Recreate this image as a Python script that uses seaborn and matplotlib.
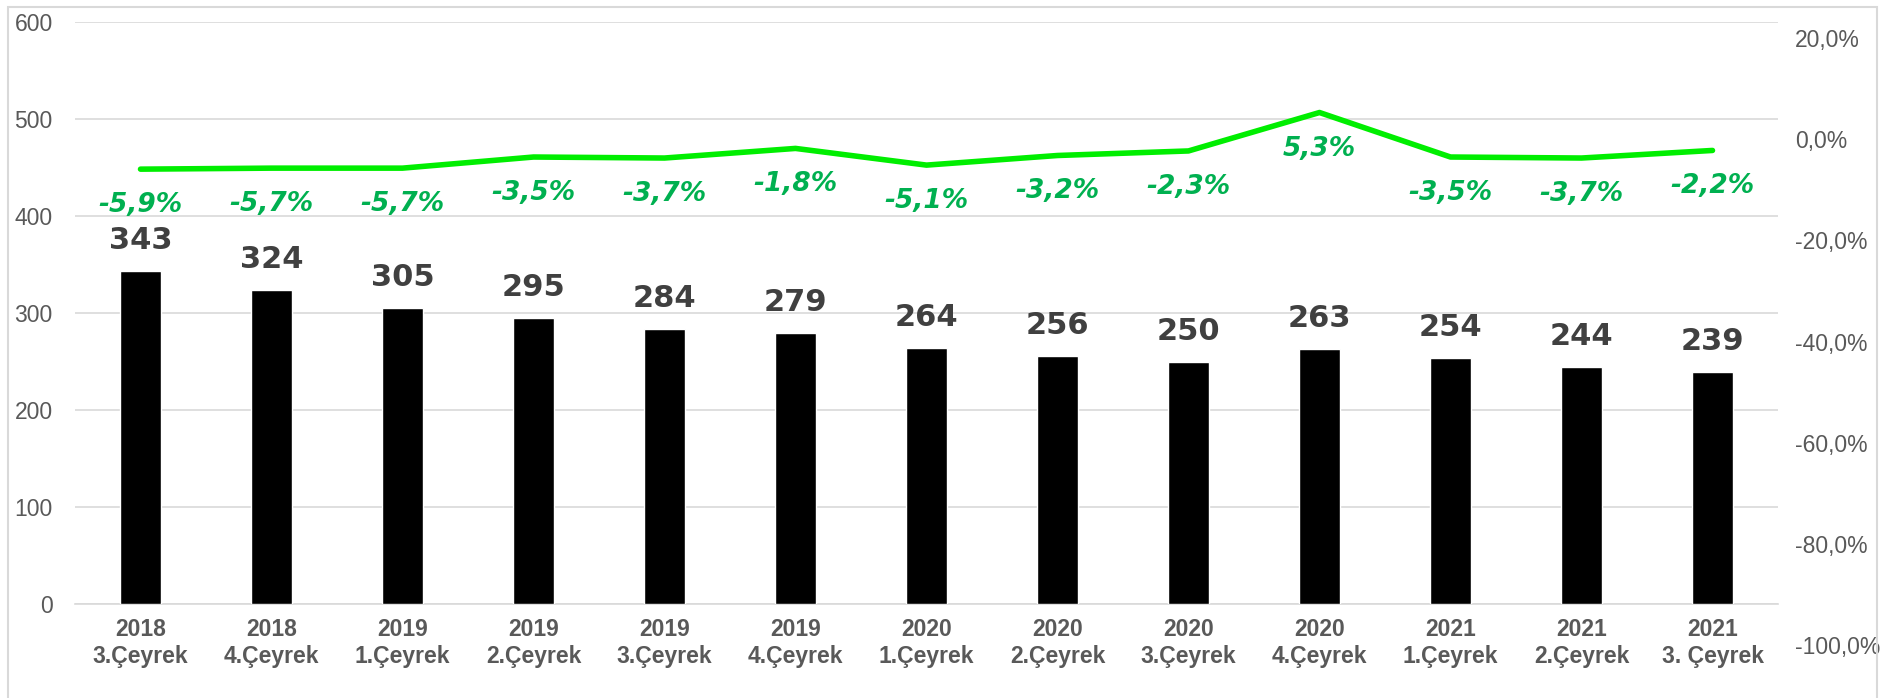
import numpy as np
import pandas as pd
import matplotlib
matplotlib.use("Agg")
import matplotlib.pyplot as plt
import seaborn as sns
from matplotlib.patches import Rectangle

# data
years = ["2018", "2018", "2019", "2019", "2019", "2019", "2020",
         "2020", "2020", "2020", "2021", "2021", "2021"]
quarters = ["3.Çeyrek", "4.Çeyrek", "1.Çeyrek", "2.Çeyrek", "3.Çeyrek", "4.Çeyrek", "1.Çeyrek",
            "2.Çeyrek", "3.Çeyrek", "4.Çeyrek", "1.Çeyrek", "2.Çeyrek", "3. Çeyrek"]
counts = [343, 324, 305, 295, 284, 279, 264, 256, 250, 263, 254, 244, 239]
change_pct = [-5.9, -5.7, -5.7, -3.5, -3.7, -1.8, -5.1, -3.2, -2.3, 5.3, -3.5, -3.7, -2.2]

left_ticks = [0, 100, 200, 300, 400, 500, 600]
right_ticks = [20, 0, -20, -40, -60, -80, -100]

labels = [f"{y}\n{q}" for y, q in zip(years, quarters)]
df = pd.DataFrame({"label": labels, "count": counts, "pct": change_pct})
df["pos"] = np.arange(len(df))

sns.set_style("white")
plt.rcParams["font.family"] = ["Liberation Sans", "DejaVu Sans"]

W, H = 1891, 698
fig = plt.figure(figsize=(W / 100, H / 100), dpi=100)

grid_c = "#d9d9d9"
tick_c = "#595959"

# main axes (bars)
ax = fig.add_axes([75 / W, (H - 604) / H, (1778 - 75) / W, 582 / H])
sns.barplot(data=df, x="label", y="count", color="black", width=0.32,
            saturation=1, ax=ax, zorder=3)
ax.set_ylim(0, 600)
ax.set_xlim(-0.5, len(df) - 0.5)
ax.set_yticks(left_ticks)
ax.set_yticklabels([str(t) for t in left_ticks], family="Liberation Sans")
ax.yaxis.grid(True, color=grid_c, lw=1.2, zorder=0)
ax.set_axisbelow(True)
for s in ["top", "right", "left"]:
    ax.spines[s].set_visible(False)
ax.spines["bottom"].set_color(grid_c)
ax.spines["bottom"].set_linewidth(1.2)
ax.tick_params(axis="y", length=0, pad=16, labelsize=16.5, labelcolor=tick_c)
ax.tick_params(axis="x", length=0, pad=10)
ax.set_xticks(df["pos"])
ax.set_xticklabels(df["label"], fontsize=16.5, fontweight="bold", color=tick_c,
                   family=["Liberation Sans Narrow", "Liberation Sans", "DejaVu Sans"],
                   linespacing=1.25)
ax.set_xlabel("")
ax.set_ylabel("")

for p, v in zip(df["pos"], df["count"]):
    ax.annotate(str(v), (p, v), xytext=(0, 16), textcoords="offset pixels",
                ha="center", va="bottom", fontsize=22, fontweight="bold",
                color="#404040", family="DejaVu Sans")

# secondary axes (percent change line), its scale sits a bit lower than the main one
ax2 = fig.add_axes([75 / W, (H - 645) / H, (1778 - 75) / W, (645 - 22) / H], sharex=ax)
ax2.patch.set_alpha(0)
sns.lineplot(data=df, x="pos", y="pct", color="#00ee00", lw=4, ax=ax2, zorder=4)
ax2.set_ylim(-100, 23.2)
ax2.set_yticks(right_ticks)
ax2.set_yticklabels([f"{t:.1f}%".replace(".", ",") for t in right_ticks])
ax2.yaxis.tick_right()
ax2.tick_params(axis="y", length=0, pad=12, labelsize=16.5, labelcolor=tick_c)
ax2.tick_params(axis="x", bottom=False, labelbottom=False)
ax2.set_xlabel("")
ax2.set_ylabel("")
for s in ax2.spines.values():
    s.set_visible(False)

for p, v in zip(df["pos"], df["pct"]):
    ax2.annotate(f"{v:.1f}%".replace(".", ","), (p, v), xytext=(0, -36),
                 textcoords="offset pixels", ha="center", va="center",
                 fontsize=19, fontweight="bold", fontstyle="italic",
                 color="#00b050", family="DejaVu Sans")

# light chart border
fig.patches.append(Rectangle((8 / W, -0.01), (1877 - 8) / W, 1.0, transform=fig.transFigure,
                             fill=False, edgecolor=grid_c, lw=1.5))

fig.savefig("out.png", dpi=100)
